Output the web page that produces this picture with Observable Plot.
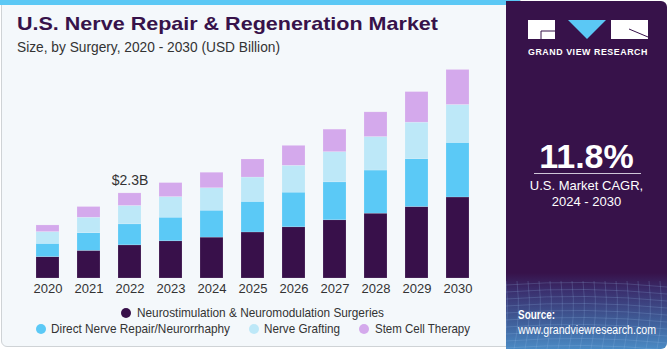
<!DOCTYPE html>
<html>
<head>
<meta charset="utf-8">
<script src="https://cdn.jsdelivr.net/npm/d3@7"></script>
<script src="https://cdn.jsdelivr.net/npm/@observablehq/plot@0.6"></script>
<style>
  html, body { margin: 0; padding: 0; background: #fff; }
  #root { position: relative; width: 671px; height: 350px; overflow: hidden; font-family: "Liberation Sans", Arial, sans-serif; }
  #card { position: absolute; left: 1px; top: 0; width: 520px; height: 347px; background: #f4f8fb; border: 1px solid #cfd3d6; border-radius: 0 0 0 6px; box-sizing: border-box; }
  #strip { position: absolute; left: 0; top: 0; width: 520px; height: 5px; background: #5bc8f5; }
  .fit { transform-origin: 0 50%; }
  #title { position: absolute; left: 17px; top: 13px; font-size: 19px; font-weight: bold; color: #37124a; white-space: nowrap; }
  #subtitle { position: absolute; left: 17px; top: 39px; font-size: 14px; color: #333; white-space: nowrap; }
  #chart { position: absolute; left: 0; top: 60px; }
  .leg { position: absolute; font-size: 13px; color: #333; white-space: nowrap; }
  .dot { position: absolute; width: 10px; height: 10px; border-radius: 50%; }
  #side { position: absolute; left: 506px; top: 1px; width: 161px; height: 348px; border-radius: 0 6px 6px 0;
          background: linear-gradient(to bottom, #37124a 0px, #37124a 272px, #3a2f6e 290px, #3f5d98 320px, #4a8ac4 348px); overflow: hidden; }
  #side .t { position: absolute; color: #fff; white-space: nowrap; }
</style>
</head>
<body>
<div id="root">
  <div id="card"></div>
  <div id="strip"></div>
  <div id="title" class="fit" data-w="421">U.S. Nerve Repair &amp; Regeneration Market</div>
  <div id="subtitle" class="fit" data-w="263">Size, by Surgery, 2020 - 2030 (USD Billion)</div>
  <div id="chart"></div>
  <div id="legend"></div>
  <div id="side">
    <svg width="161" height="348" style="position:absolute;left:0;top:0">
      <g stroke="#9cc2ea" stroke-opacity="0.3" stroke-width="0.7" fill="none" id="grid"></g>
      <rect x="22" y="19" width="27" height="19" fill="#fff"/>
      <path d="M35 30 H49 M35 30 V38" stroke="#37124a" stroke-width="1" fill="none"/>
      <polygon points="62,19 100,19 81,38" fill="#5bc8f5"/>
      <rect x="105" y="19" width="37" height="19" fill="#fff"/>
      <path d="M123 28 L142 36" stroke="#37124a" stroke-width="1" fill="none"/>
    </svg>
    <div class="t fit" data-w="120" style="left:22px;top:45px;font-size:9.5px;font-weight:bold;letter-spacing:0.6px;">GRAND VIEW RESEARCH</div>
    <div class="t" style="left:0;width:161px;text-align:center;top:136px;font-size:34px;font-weight:bold;">11.8%</div>
    <div style="position:absolute;left:28px;top:172px;width:107px;height:1px;background:#cfc6d8;"></div>
    <div class="t" style="left:0;width:161px;text-align:center;top:177px;font-size:13px;line-height:16px;">U.S. Market CAGR,<br>2024 - 2030</div>
    <div class="t fit" data-w="37" style="left:12px;top:307px;font-size:12.5px;font-weight:bold;">Source:</div>
    <div class="t fit" data-w="138" style="left:12px;top:322px;font-size:12.5px;">www.grandviewresearch.com</div>
  </div>
</div>
<script>
const years = [2020, 2021, 2022, 2023, 2024, 2025, 2026, 2027, 2028, 2029, 2030];
const neuro  = [0.58, 0.75, 0.90, 1.01, 1.11, 1.25, 1.39, 1.58, 1.76, 1.94, 2.20];
const direct = [0.36, 0.48, 0.57, 0.64, 0.73, 0.83, 0.94, 1.03, 1.17, 1.30, 1.48];
const graft  = [0.32, 0.42, 0.50, 0.56, 0.61, 0.66, 0.73, 0.82, 0.91, 0.99, 1.03];
const stem   = [0.18, 0.29, 0.34, 0.38, 0.42, 0.49, 0.54, 0.61, 0.67, 0.83, 0.95];
const segments = ["Neurostimulation & Neuromodulation Surgeries", "Direct Nerve Repair/Neurorrhaphy", "Nerve Grafting", "Stem Cell Therapy"];
const colors = ["#38104a", "#5bc9f6", "#bde8f8", "#d4a9ec"];
const annotationYear = 2022;
const annotationText = "$2.3B";

const series = [neuro, direct, graft, stem];
const rows = [];
years.forEach((y, i) => series.forEach((s, k) => rows.push({year: String(y), segment: segments[k], value: s[i]})));
const totals = years.map((y, i) => ({year: String(y), total: series.reduce((a, s) => a + s[i], 0)}));
const ann = totals.filter(d => d.year === String(annotationYear)).map(d => ({...d, label: annotationText}));

const plot = Plot.plot({
  width: 507,
  height: 240,
  marginTop: 8,
  marginBottom: 22,
  marginLeft: 13,
  marginRight: 14,
  style: {background: "transparent", fontFamily: "'Liberation Sans', Arial, sans-serif", fontSize: "13px", color: "#333"},
  x: {type: "band", domain: years.map(String), padding: 0.43, label: null, tickSize: 0, tickPadding: 5},
  y: {domain: [0, 5.7], axis: null},
  color: {domain: segments, range: colors},
  marks: [
    Plot.barY(rows, {x: "year", y: "value", fill: "segment", order: segments, stroke: "#ffffff", strokeOpacity: 0.25, strokeWidth: 0.6}),
    Plot.text(ann, {x: "year", y: "total", text: "label", dy: -13, fontSize: 14, fill: "#333"})
  ]
});
document.getElementById("chart").appendChild(plot);

// legend
const legend = document.getElementById("legend");
const items = [
  {i: 0, dotX: 121, textX: 137, y: 313, w: 247},
  {i: 1, dotX: 36, textX: 51, y: 329, w: 179},
  {i: 2, dotX: 249, textX: 264, y: 329, w: 76},
  {i: 3, dotX: 359, textX: 375, y: 329, w: 95}
];
items.forEach(it => {
  const d = document.createElement("div");
  d.className = "dot";
  d.style.left = it.dotX + "px"; d.style.top = (it.y - 5) + "px"; d.style.background = colors[it.i];
  legend.appendChild(d);
  const t = document.createElement("div");
  t.className = "leg fit";
  t.dataset.w = it.w;
  t.style.left = it.textX + "px"; t.style.top = (it.y - 8) + "px";
  t.textContent = segments[it.i];
  legend.appendChild(t);
});

// fit texts horizontally to the widths seen in the reference
document.querySelectorAll(".fit").forEach(el => {
  const w = el.getBoundingClientRect().width;
  const target = +el.dataset.w;
  if (w > 0 && target) el.style.transform = `scaleX(${target / w})`;
});

// decorative grid in side panel bottom
const g = document.getElementById("grid");
const ns = "http://www.w3.org/2000/svg";
for (let k = 0; k < 10; k++) {
  const p = document.createElementNS(ns, "path");
  const y0 = 284 + k * 7;
  p.setAttribute("d", `M0 ${y0} Q80 ${y0 - 6} 161 ${y0 + 2}`);
  g.appendChild(p);
}
for (let k = 0; k < 16; k++) {
  const p = document.createElementNS(ns, "path");
  const x0 = k * 11;
  p.setAttribute("d", `M${x0} 280 Q${x0 + 4} 315 ${x0 - 3} 348`);
  g.appendChild(p);
}
</script>
</body>
</html>
